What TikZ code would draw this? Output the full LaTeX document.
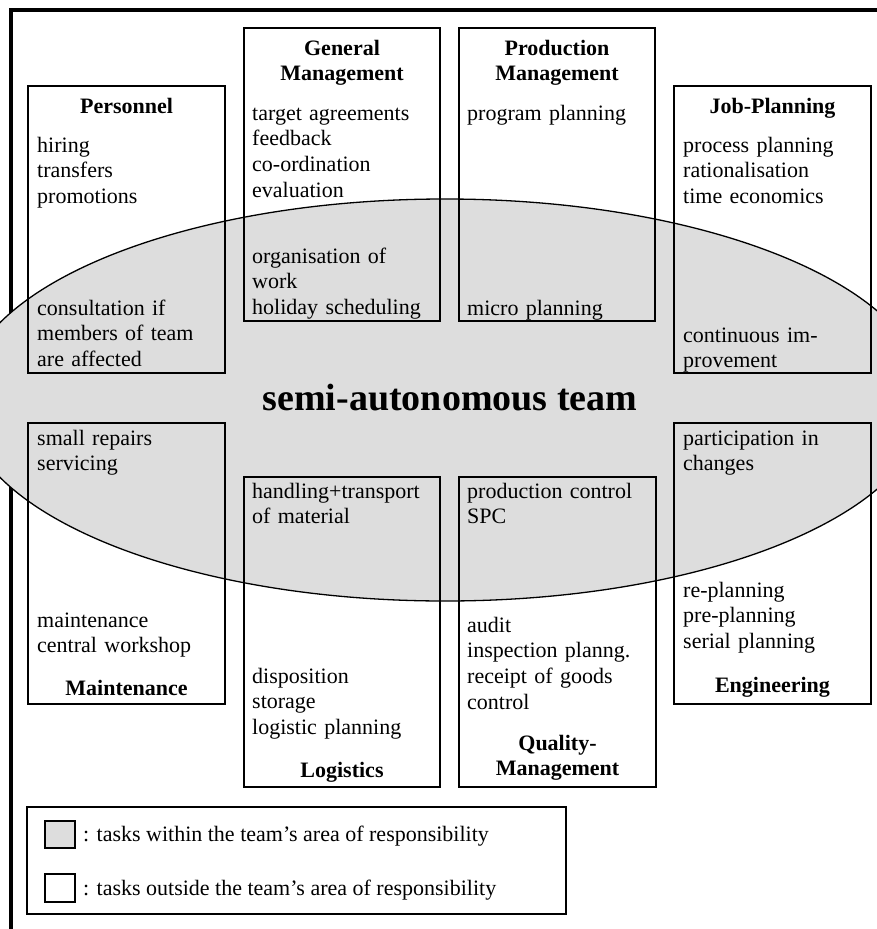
\documentclass[tikz,border=0pt]{standalone}
\usepackage{fontspec}
\setmainfont{Liberation Serif}
\definecolor{teamgray}{RGB}{221,221,221}
\newcommand\txtfont{\fontsize{22}{25.8}\selectfont}
\newcommand\hdfont{\bfseries\fontsize{22}{25.5}\selectfont}

\begin{document}
\begin{tikzpicture}[x=1pt,y=-1pt,
  frame/.style={line width=3.3pt},
  zone/.style={fill=teamgray, draw=black, line width=1.3pt},
  area/.style={draw=black, line width=2pt},
  legendbox/.style={draw=black, line width=2.3pt},
  swatch/.style={draw=black, line width=2pt},
  tasks/.style={anchor=base west, inner sep=0pt, text width=200pt, align=left, font=\txtfont},
  head/.style={anchor=base, inner sep=0pt, text width=190pt, align=center, font=\hdfont},
  title/.style={anchor=base, inner sep=0pt, font=\bfseries\fontsize{38}{44}\selectfont},
  legtext/.style={anchor=base west, inner sep=0pt, font=\txtfont}]

\useasboundingbox (0,0) rectangle (877,929);

% outer frame and the team's area
\begin{scope}
  \clip (0,0) rectangle (877,929);
  \draw[frame] (11,940) -- (11,10) -- (890,10);
  \draw[zone] (445,400) ellipse [x radius=482pt, y radius=201pt];
\end{scope}

% functional areas
\draw[area] (28,86) rectangle (225,373);
\draw[area] (244,28) rectangle (440,321);
\draw[area] (459,28) rectangle (655,321);
\draw[area] (674,86) rectangle (871,373);
\draw[area] (28,423) rectangle (225,704);
\draw[area] (244,477) rectangle (440,787);
\draw[area] (459,477) rectangle (656,787);
\draw[area] (674,423) rectangle (871,704);

% Personnel
\node[head]  (persH) at (126.5,113) {Personnel};
\node[tasks] (persA) at (37,152) {hiring\\transfers\\promotions};
\node[tasks] (persB) at (37,315) {consultation if\\members of team\\are affected};

% General Management
\node[head]  (gmH) at (342,55) {General\\Management};
\node[tasks] (gmA) at (252,120) {target agreements\\feedback\\co-ordination\\evaluation};
\node[tasks] (gmB) at (252,263) {organisation of\\work\\holiday scheduling};

% Production Management
\node[head]  (pmH) at (557,55) {Production\\Management};
\node[tasks] (pmA) at (467,120) {program planning};
\node[tasks] (pmB) at (467,315) {micro planning};

% Job-Planning
\node[head]  (jobH) at (772.5,113) {Job-Planning};
\node[tasks] (jobA) at (683,152) {process planning\\rationalisation\\time economics};
\node[tasks] (jobB) at (683,342) {continuous im-\\provement};

% Maintenance
\node[tasks] (mntA) at (37,445) {small repairs\\servicing};
\node[tasks] (mntB) at (37,627) {maintenance\\central workshop};
\node[head]  (mntH) at (126.5,695) {Maintenance};

% Logistics
\node[tasks] (logA) at (252,498) {handling+transport\\of material};
\node[tasks] (logB) at (252,683) {disposition\\storage\\logistic planning};
\node[head]  (logH) at (342,777) {Logistics};

% Quality-Management
\node[tasks] (qmA) at (467,498) {production control\\SPC};
\node[tasks] (qmB) at (467,632) {audit\\inspection planng.\\receipt of goods\\control};
\node[head]  (qmH) at (557.5,750) {Quality-\\Management};

% Engineering
\node[tasks] (engA) at (683,445) {participation in\\changes};
\node[tasks] (engB) at (683,597) {re-planning\\pre-planning\\serial planning};
\node[head]  (engH) at (772.5,692) {Engineering};

% centre label
\node[title] (team) at (450,410) {semi-autonomous team};

% legend
\draw[legendbox] (27,807) rectangle (566,914);
\draw[swatch, fill=teamgray] (45,821) rectangle (75,848);
\draw[swatch] (45,874) rectangle (75,902);
\node[legtext] (inside)  at (83,841) {: tasks within the team’s area of responsibility};
\node[legtext] (outside) at (83,895) {: tasks outside the team’s area of responsibility};
\end{tikzpicture}
\end{document}
